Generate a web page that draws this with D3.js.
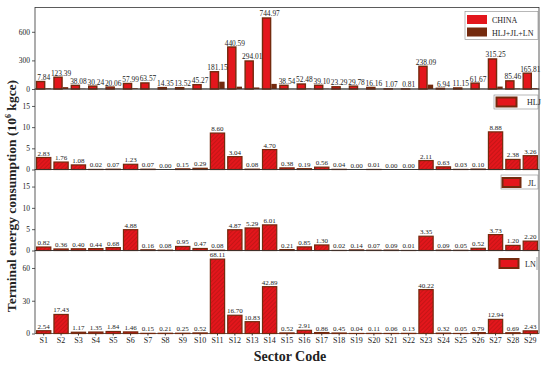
<!DOCTYPE html>
<html><head><meta charset="utf-8">
<script src="https://cdn.jsdelivr.net/npm/d3@7/dist/d3.min.js"></script>
<style>body{margin:0;background:#fff}svg{display:block}text{font-family:"Liberation Serif","Times New Roman",serif;fill:#222}</style>
</head><body>
<svg id="c" width="550" height="368"></svg>
<script>
const sectors = ["S1","S2","S3","S4","S5","S6","S7","S8","S9","S10","S11","S12","S13","S14","S15","S16","S17","S18","S19","S20","S21","S22","S23","S24","S25","S26","S27","S28","S29"];
const china = [78.4,123.39,38.08,30.24,20.06,57.99,63.57,14.35,13.52,45.27,181.15,440.59,294.01,744.97,38.54,52.48,39.10,23.29,29.78,16.16,1.07,0.81,238.09,6.94,11.15,61.67,315.25,85.46,165.81];
const chinaLabels = ["7.84","123.39","38.08","30.24","20.06","57.99","63.57","14.35","13.52","45.27","181.15","440.59","294.01","744.97","38.54","52.48","39.10","23.29","29.78","16.16","1.07","0.81","238.09","6.94","11.15","61.67","315.25","85.46","165.81"];
const threeProv = [6.19,19.55,2.65,1.81,2.59,7.57,0.38,0.29,1.35,1.28,76.79,24.61,16.20,53.60,1.11,3.95,2.72,0.51,0.18,0.19,0.15,0.14,45.68,1.04,0.13,1.41,25.55,4.27,7.89];
const hlj = [2.83,1.76,1.08,0.02,0.07,1.23,0.07,0.00,0.15,0.29,8.60,3.04,0.08,4.70,0.38,0.19,0.56,0.04,0.00,0.01,0.00,0.00,2.11,0.63,0.03,0.10,8.88,2.38,3.26];
const jl = [0.82,0.36,0.40,0.44,0.68,4.88,0.16,0.08,0.95,0.47,0.08,4.87,5.29,6.01,0.21,0.85,1.30,0.02,0.14,0.07,0.09,0.01,3.35,0.09,0.05,0.52,3.73,1.20,2.20];
const ln = [2.54,17.43,1.17,1.35,1.84,1.46,0.15,0.21,0.25,0.52,68.11,16.70,10.83,42.89,0.52,2.91,0.86,0.45,0.04,0.11,0.06,0.13,40.22,0.32,0.05,0.79,12.94,0.69,2.43];
const ticksTop = [0,300,600];
const ticksProv = [0,5,10,15];
const ticksLN = [0,30,60];

const RED = "#e3161c", BROWN = "#742a0e";
const svg = d3.select("#c");
const L = 35, R = 539;
const x = d3.scaleBand().domain(sectors).range([L, R]).paddingInner(0.18).paddingOuter(0.09);

const defs = svg.append("defs");
const pat = defs.append("pattern").attr("id","hatch").attr("patternUnits","userSpaceOnUse")
  .attr("width",3).attr("height",3).attr("patternTransform","rotate(45)");
pat.append("rect").attr("width",3).attr("height",3).attr("fill",RED);
pat.append("line").attr("x1",0).attr("y1",0).attr("x2",0).attr("y2",3).attr("stroke","#a0140f").attr("stroke-width",0.9);

function panel(top, bottom, domainMax, ticks) {
  const y = d3.scaleLinear().domain([0, domainMax]).range([bottom, top]);
  const g = svg.append("g");
  g.append("rect").attr("x", L).attr("y", top).attr("width", R - L).attr("height", bottom - top)
    .attr("fill", "none").attr("stroke", "#333").attr("stroke-width", 0.8);
  const ax = g.append("g").attr("transform", `translate(${L},0)`)
    .call(d3.axisLeft(y).tickValues(ticks).tickSize(3).tickPadding(2).tickFormat(d3.format("d")));
  ax.select(".domain").remove();
  ax.selectAll("line").attr("stroke","#333").attr("stroke-width",0.8);
  ax.selectAll("text").attr("font-size","7.5px").attr("font-family","Liberation Serif").attr("fill","#222");
  return {g, y};
}

// Panel 1
const p1 = panel(7.5, 89, 855, ticksTop);
const bw = x.bandwidth();
const w1 = bw * 0.57, w2 = bw - w1;
p1.g.selectAll(".ch").data(sectors).join("rect")
  .attr("x", d => x(d)).attr("width", w1)
  .attr("y", (d,i) => p1.y(china[i])).attr("height", (d,i) => p1.y(0) - p1.y(china[i]))
  .attr("fill", RED).attr("stroke", BROWN).attr("stroke-width", 1.4);
p1.g.selectAll(".tp").data(sectors).join("rect")
  .attr("x", d => x(d) + w1 + 0.7).attr("width", w2 - 0.7)
  .attr("y", (d,i) => p1.y(threeProv[i])).attr("height", (d,i) => p1.y(0) - p1.y(threeProv[i]))
  .attr("fill", BROWN);
p1.g.selectAll(".lb").data(sectors).join("text")
  .attr("x", d => x(d) + bw/2).attr("y", (d,i) => p1.y(Math.max(china[i], threeProv[i])) - 1.5)
  .attr("text-anchor","middle").attr("font-size","7.4px").text((d,i) => chinaLabels[i]);

// Legend panel 1
const lg = svg.append("g");
lg.append("rect").attr("x",465).attr("y",11.5).attr("width",73).attr("height",28).attr("fill","#fff").attr("stroke","#888").attr("stroke-width",0.6);
lg.append("rect").attr("x",467).attr("y",15).attr("width",20).attr("height",9).attr("fill",RED);
lg.append("rect").attr("x",467).attr("y",27.5).attr("width",20).attr("height",9).attr("fill",BROWN);
lg.append("text").attr("x",492).attr("y",23).attr("font-size","8px").text("CHINA");
lg.append("text").attr("x",492).attr("y",35.5).attr("font-size","8px").text("HLJ+JL+LN");

function provPanel(top, bottom, dmax, ticks, vals, name, leg, showX) {
  const p = panel(top, bottom, dmax, ticks);
  p.g.selectAll(".b").data(sectors).join("rect")
    .attr("x", d => x(d)).attr("width", bw)
    .attr("y", (d,i) => p.y(vals[i])).attr("height", (d,i) => p.y(0) - p.y(vals[i]))
    .attr("fill", "url(#hatch)").attr("stroke", BROWN).attr("stroke-width", 1.2);
  p.g.selectAll(".l").data(sectors).join("text")
    .attr("x", d => x(d) + bw/2).attr("y", (d,i) => p.y(vals[i]) - 2)
    .attr("text-anchor","middle").attr("font-size","7px").text((d,i) => vals[i].toFixed(2));
  const lgp = svg.append("g");
  if (leg.box) lgp.append("rect").attr("x",leg.bx).attr("y",leg.by).attr("width",538-leg.bx).attr("height",14)
      .attr("fill","#fff").attr("stroke","#888").attr("stroke-width",0.6);
  else lgp.append("line").attr("x1",537).attr("x2",537).attr("y1",leg.sy-2).attr("y2",leg.sy+11).attr("stroke","#666").attr("stroke-width",0.6);
  lgp.append("rect").attr("x",leg.sx).attr("y",leg.sy).attr("width",leg.sw).attr("height",9)
    .attr("fill",RED).attr("stroke",BROWN).attr("stroke-width",2);
  lgp.append("text").attr("x",leg.tx).attr("y",leg.sy+7.5).attr("font-size","8px").text(name);
  if (showX) {
    const xa = svg.append("g").attr("transform",`translate(0,${bottom})`)
      .call(d3.axisBottom(x).tickSize(2).tickPadding(2));
    xa.select(".domain").remove();
    xa.selectAll("line").attr("stroke","#333");
    xa.selectAll("text").attr("font-size","8px").attr("font-family","Liberation Serif").attr("fill","#222");
  }
}
provPanel(89, 169.5, 19, ticksProv, hlj, "HLJ", {box:true,bx:494,by:95,sx:496.5,sy:97.5,sw:20,tx:527}, false);
provPanel(169.5, 250.5, 19, ticksProv, jl, "JL", {box:true,bx:501,by:175,sx:502.5,sy:178,sw:18,tx:528}, false);
provPanel(250.5, 333.5, 76, ticksLN, ln, "LN", {box:false,sx:499.5,sy:259,sw:19,tx:525}, true);

// Titles
svg.append("text").attr("transform","translate(16,196) rotate(-90)").attr("text-anchor","middle")
  .attr("font-size","13.5px").attr("font-weight","bold")
  .call(t => { t.append("tspan").text("Terminal energy consumption (10");
               t.append("tspan").attr("font-size","8px").attr("dy","-5").text("6");
               t.append("tspan").attr("dy","5").text(" kgce)"); });
svg.append("text").attr("x",290).attr("y",361).attr("text-anchor","middle")
  .attr("font-size","14px").attr("font-weight","bold").text("Sector Code");
</script>
</body></html>
